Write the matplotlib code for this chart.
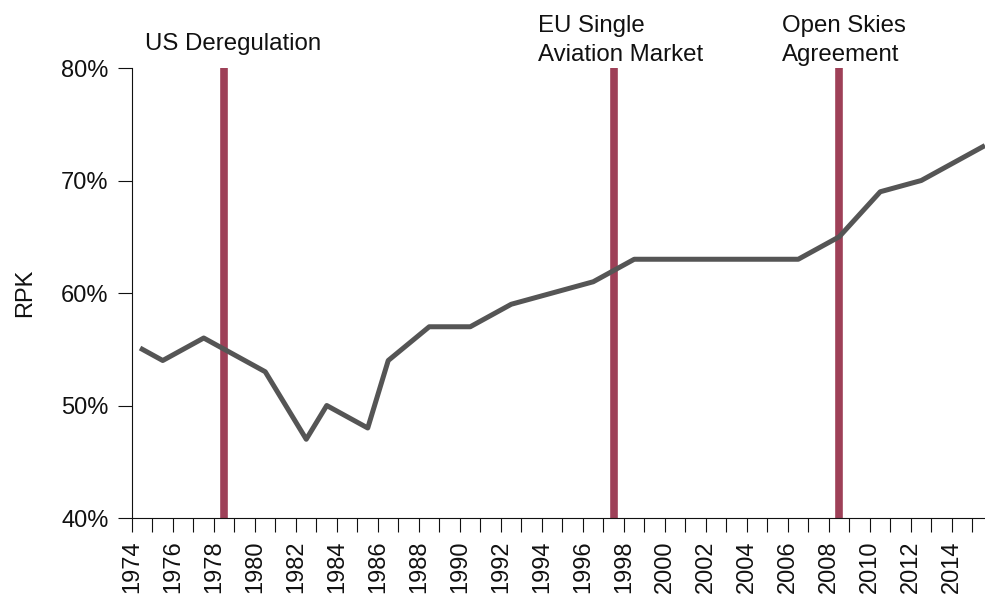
import matplotlib
matplotlib.use('Agg')
import matplotlib.pyplot as plt
import matplotlib.ticker as mticker

years = list(range(1974, 2016))
rpk = [55, 54, 55, 56, 55, 54, 53, 50, 47, 50, 49, 48, 54, 55.5, 57, 57, 57, 58, 59, 59.5,
       60, 60.5, 61, 62, 63, 63, 63, 63, 63, 63, 63, 63, 63, 64, 65, 67, 69, 69.5, 70, 71,
       72, 73]
event_years = [1978, 1997, 2008]
event_labels = ['US Deregulation', 'EU Single\nAviation Market', 'Open Skies\nAgreement']
tick_years = list(range(1974, 2016, 2))

plt.rcParams['font.family'] = ['Liberation Sans', 'DejaVu Sans']

fig = plt.figure(figsize=(9.85, 5.95), dpi=100)
ax = fig.add_axes([0.134, 0.1294, 0.866, 0.7563])

# points sit in the middle of each year slot
x = [y + 0.5 for y in years]
for ey in event_years:
    ax.axvline(ey + 0.5, color='#9e4058', lw=5.5, zorder=2)
ax.plot(x, [v / 100 for v in rpk], color='#555555', lw=3.6, zorder=3)

# label placement (left edge offset from the line, baseline of last line)
lab_dx = [-3.87, -3.7, -2.81]
lab_y = [0.816, 0.806, 0.806]
for ey, lab, dx, ly in zip(event_years, event_labels, lab_dx, lab_y):
    ax.text(ey + 0.5 + dx, ly, lab, fontsize=17.3, ha='left', va='baseline',
            linespacing=1.45, color='#111111')

ax.set_xlim(1974, 2015.61)
ax.set_ylim(0.40, 0.80)
ax.yaxis.set_major_locator(mticker.MultipleLocator(0.1))
ax.yaxis.set_major_formatter(mticker.PercentFormatter(1.0, decimals=0))
ax.set_xticks(tick_years)
ax.set_xticklabels([str(t) for t in tick_years], rotation=90)
ax.xaxis.set_minor_locator(mticker.MultipleLocator(1))
ax.tick_params(axis='both', which='both', direction='out', length=10, width=0.8,
               labelsize=17, colors='#111111')
ax.tick_params(axis='x', which='both', pad=6)
ax.tick_params(axis='y', pad=7)
for s in ['left', 'bottom']:
    ax.spines[s].set_linewidth(0.8)
    ax.spines[s].set_color('#111111')
ax.spines['top'].set_visible(False)
ax.spines['right'].set_visible(False)
ax.set_ylabel('RPK', fontsize=17, labelpad=18, color='#111111')

fig.savefig('out.png', dpi=100)
